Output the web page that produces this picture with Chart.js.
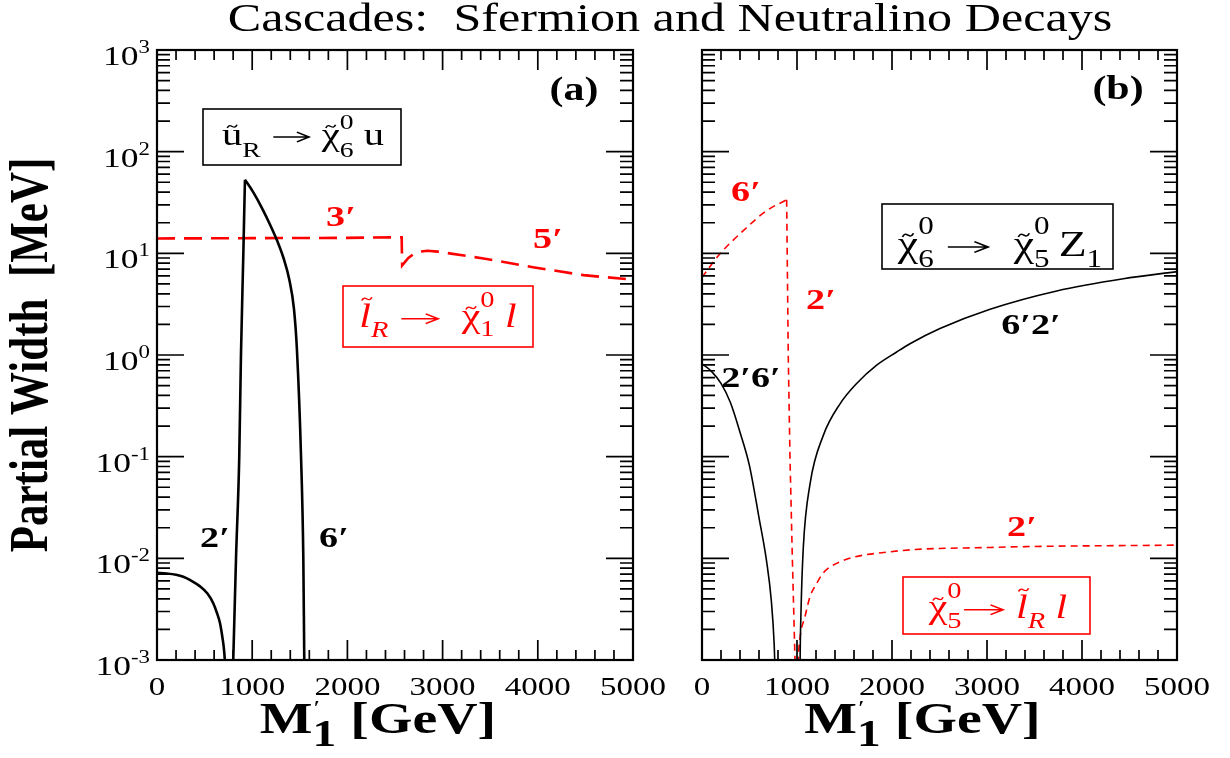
<!DOCTYPE html>
<html>
<head>
<meta charset="utf-8">
<script src="https://cdn.jsdelivr.net/npm/chart.js@4.4.1/dist/chart.umd.min.js"></script>
<style>
  html, body { margin: 0; padding: 0; background: #fff; }
  #wrap { position: relative; width: 1230px; height: 758px; overflow: hidden; }
  canvas { position: absolute; left: 0; top: 0; }
</style>
</head>
<body>
<div id="wrap">
  <canvas id="panelA" width="1230" height="758"></canvas>
  <canvas id="panelB" width="1230" height="758"></canvas>
</div>
<script>
const SERIF = '"Liberation Serif", "Times New Roman", "DejaVu Serif", serif';
const SX = 1.27; // the original figure is stretched sideways

const xTicks = [0, 1000, 2000, 3000, 4000, 5000];
const xMinor = 200;
const yExps = [-3, -2, -1, 0, 1, 2, 3];

// (a) squark ~u_R -> ~chi0_6 u, branch 2'
const squark2X = [0, 100, 200, 276, 350, 452, 530, 592, 630, 662, 690, 704, 712, 720];
const squark2Y = [0.0072, 0.0071, 0.0069, 0.0066, 0.0061, 0.0053, 0.0045, 0.0036, 0.0029, 0.0023, 0.0016, 0.00126, 0.0010, 0.0006];
// (a) squark, branch 6'
const squark6X = [796, 801, 830, 864, 882, 907, 918, 924, 1012, 1100, 1194, 1268, 1327, 1390, 1439, 1470, 1513, 1537, 1547, 1551];
const squark6Y = [0.0006, 0.001, 0.01, 0.1, 1, 10, 30, 53, 39.8, 28.2, 18.6, 12.9, 9.1, 5.5, 2.82, 1.12, 0.1, 0.01, 0.001, 0.0005];
// (a) slepton ~l_R -> ~chi0_1 l, 3' then 5'
const sleptonX = [0, 1000, 2000, 2570, 2575, 2640, 2700, 2770, 2840, 2950, 3430, 3950, 4480, 5000];
const sleptonY = [14.0, 14.1, 14.2, 14.4, 7.6, 9.0, 9.9, 10.4, 10.6, 10.4, 8.9, 7.3, 6.1, 5.5];

// (b) ~chi0_6 -> ~chi0_5 Z1, 2'6' and 6'2'
const neut26X = [0, 100, 200, 300, 400, 500, 600, 680, 730, 760, 772];
const neut26Y = [0.82, 0.69, 0.525, 0.339, 0.174, 0.0813, 0.0251, 0.00933, 0.0038, 0.00141, 0.00063];
const neut62X = [1031, 1033, 1042, 1066, 1137, 1277, 1453, 1628, 1839, 2049, 2189, 2505, 3032, 3734, 4435, 5000];
const neut62Y = [0.0005, 0.001, 0.00295, 0.0126, 0.0537, 0.162, 0.331, 0.525, 0.794, 1.07, 1.29, 1.82, 2.82, 4.27, 5.62, 6.61];
// (b) ~chi0_5 -> ~l_R l, 6' and 2'
const chiSlep6X = [0, 189, 435, 681, 891, 908, 926, 951, 979, 985];
const chiSlep6Y = [5.8, 9.9, 16.7, 26.3, 33.6, 1.0, 0.1, 0.01, 0.001, 0.0006];
const chiSlep2X = [1010, 1014, 1030, 1084, 1137, 1207, 1277, 1453, 1979, 3032, 5000];
const chiSlep2Y = [0.0007, 0.001, 0.0016, 0.00267, 0.0042, 0.00567, 0.0072, 0.00925, 0.0116, 0.0128, 0.0135];

function pts(xs, ys) {
  return xs.map((x, i) => ({ x: x, y: ys[i] }));
}

// split a curve at its highest point so the peak stays sharp
function splitPeak(xs, ys) {
  const k = ys.indexOf(Math.max(...ys));
  return [pts(xs.slice(0, k + 1), ys.slice(0, k + 1)), pts(xs.slice(k), ys.slice(k))];
}

function curve(data, color, width, dash, smooth) {
  return {
    data: data,
    showLine: true,
    borderColor: color,
    borderWidth: width,
    borderDash: dash || [],
    pointRadius: 0,
    fill: false,
    tension: 0,
    cubicInterpolationMode: smooth ? 'monotone' : 'default',
    clip: 1
  };
}

function say(ctx, text, x, y, size, o) {
  o = o || {};
  ctx.save();
  ctx.translate(x, y);
  ctx.scale(SX, 1);
  if (o.rot) ctx.rotate(o.rot);
  ctx.font = (o.weight || '') + ' ' + size + 'px ' + SERIF;
  ctx.fillStyle = o.color || '#000';
  ctx.textAlign = o.align || 'center';
  ctx.textBaseline = o.base || 'alphabetic';
  ctx.fillText(text, 0, 0);
  ctx.restore();
}

// small formula typesetter: parts with sub/superscripts, tildes and an arrow
function rich(ctx, parts, cx, y, size, color) {
  ctx.save();
  ctx.translate(cx, y);
  ctx.scale(SX, 1);
  ctx.fillStyle = color;
  ctx.strokeStyle = color;
  const fontOf = p => (p.it ? 'italic ' : '') + (p.b ? 'bold ' : '') + size * (p.s || 1) + 'px ' + SERIF;
  let w = 0;
  const items = parts.map(p => {
    let adv;
    if (p.arrow) adv = p.arrow * size;
    else { ctx.font = fontOf(p); adv = ctx.measureText(p.t).width; }
    const it = { p: p, x: w, adv: adv };
    if (!p.stack) w += adv;
    return it;
  });
  const x0 = -w / 2;
  items.forEach(it => {
    const p = it.p, px = x0 + it.x;
    if (p.arrow) {
      const ay = -0.25 * size, e = px + it.adv - 0.06 * size;
      ctx.lineWidth = size * 0.045;
      ctx.beginPath();
      ctx.moveTo(px + 0.06 * size, ay);
      ctx.lineTo(e, ay);
      ctx.moveTo(e - 0.3 * size, ay - 0.15 * size);
      ctx.lineTo(e, ay);
      ctx.lineTo(e - 0.3 * size, ay + 0.15 * size);
      ctx.stroke();
      return;
    }
    ctx.font = fontOf(p);
    ctx.fillText(p.t, px + (p.dx || 0) * size, (p.dy || 0) * size);
    if (p.tl) {
      const tx = px + it.adv / 2 + (p.tx || 0) * size, ty = -p.tl * size;
      const tw = 0.24 * size, th = 0.05 * size;
      ctx.lineWidth = size * 0.04;
      ctx.beginPath();
      ctx.moveTo(tx - tw / 2, ty + th);
      ctx.bezierCurveTo(tx - tw / 6, ty - th * 3, tx + tw / 6, ty + th * 3, tx + tw / 2, ty - th);
      ctx.stroke();
    }
  });
  ctx.restore();
}

function box(ctx, x0, y0, x1, y1, color) {
  ctx.save();
  ctx.strokeStyle = color;
  ctx.lineWidth = 1.6;
  ctx.strokeRect(x0, y0, x1 - x0, y1 - y0);
  ctx.restore();
}

// inward ticks on all four sides, frame and tick labels
function axesPlugin(showY, extras) {
  return {
    id: 'axesFrame',
    afterDatasetsDraw(chart) {
      const ctx = chart.ctx, a = chart.chartArea, x = chart.scales.x, y = chart.scales.y;
      ctx.save();
      ctx.strokeStyle = '#000';
      ctx.lineWidth = 1.7;
      ctx.beginPath();
      for (let v = xTicks[0]; v <= xTicks[xTicks.length - 1]; v += xMinor) {
        const px = x.getPixelForValue(v);
        const len = xTicks.includes(v) ? 20 : 10;
        ctx.moveTo(px, a.bottom); ctx.lineTo(px, a.bottom - len);
        ctx.moveTo(px, a.top); ctx.lineTo(px, a.top + len);
      }
      for (let i = 0; i < yExps.length - 1; i++) {
        for (let m = 1; m < 10; m++) {
          const py = y.getPixelForValue(m * Math.pow(10, yExps[i]));
          const len = m === 1 ? 27 : 13;
          ctx.moveTo(a.left, py); ctx.lineTo(a.left + len, py);
          ctx.moveTo(a.right, py); ctx.lineTo(a.right - len, py);
        }
      }
      ctx.stroke();
      ctx.lineWidth = 2.2;
      ctx.strokeRect(a.left, a.top, a.right - a.left, a.bottom - a.top);
      ctx.restore();

      xTicks.forEach(v => say(ctx, String(v), x.getPixelForValue(v), 695, 26));
      if (showY) {
        yExps.forEach(e => {
          const py = y.getPixelForValue(Math.pow(10, e));
          const right = 150;
          ctx.font = '28px ' + SERIF;
          const w1 = ctx.measureText('10').width * SX;
          ctx.font = '18px ' + SERIF;
          const w2 = ctx.measureText(String(e)).width * SX;
          say(ctx, '10', right - w2 - w1, py + 15, 28, { align: 'left' });
          say(ctx, String(e), right - w2, py + 3, 18, { align: 'left' });
        });
      }
      rich(ctx, [{ t: 'M', b: 1 }, { t: '\u2032', s: 0.5, dy: -0.42, dx: 0.02, stack: 1 }, { t: '1', b: 1, s: 0.85, dy: 0.3 }, { t: ' [GeV]', b: 1 }],
        (a.left + a.right) / 2 - 17, 733, 44, '#000');
      extras(ctx, a);
    }
  };
}

function makeChart(id, datasets, pad, showY, extras) {
  return new Chart(document.getElementById(id), {
    type: 'scatter',
    data: { datasets: datasets },
    options: {
      responsive: false,
      animation: false,
      events: [],
      devicePixelRatio: 1,
      layout: { padding: pad },
      scales: {
        x: { type: 'linear', min: 0, max: 5000, display: false },
        y: { type: 'logarithmic', min: 1e-3, max: 1e3, display: false }
      },
      plugins: { legend: { display: false }, tooltip: { enabled: false } }
    },
    plugins: [axesPlugin(showY, extras)]
  });
}

const RED = '#ff0000';
const LBL = 30;
const squark6 = splitPeak(squark6X, squark6Y);
makeChart('panelA', [
  curve(pts(squark2X, squark2Y), '#000', 2.6, null, true),
  curve(squark6[0], '#000', 2.6, null, true),
  curve(squark6[1], '#000', 2.6, null, true),
  curve(pts(sleptonX, sleptonY), RED, 2.6, [18, 9], false)
], { left: 157, right: 597, top: 50, bottom: 98 }, true, (ctx, a) => {
  say(ctx, 'Cascades:  Sfermion and Neutralino Decays', 670, 31, 39.5);
  say(ctx, 'Partial Width  [MeV]', 33, 355, 43, { weight: 'bold', rot: -Math.PI / 2, base: 'middle' });
  say(ctx, '(a)', 574, 91, 33, { weight: 'bold', base: 'middle' });
  say(ctx, '3\u2032', 341, 218, LBL, { weight: 'bold', base: 'middle', color: RED });
  say(ctx, '5\u2032', 548, 240, LBL, { weight: 'bold', base: 'middle', color: RED });
  say(ctx, '2\u2032', 215, 539, LBL, { weight: 'bold', base: 'middle' });
  say(ctx, '6\u2032', 334, 539, LBL, { weight: 'bold', base: 'middle' });
  box(ctx, 203, 109, 401, 165, '#000');
  rich(ctx, [{ t: 'u', tl: 0.58 }, { t: 'R', s: 0.68, dy: 0.38 }, { t: ' ' }, { arrow: 1.0 }, { t: ' ' },
    { t: '\u03c7', tl: 0.58 }, { t: '0', s: 0.68, dy: -0.5, stack: 1 }, { t: '6', s: 0.68, dy: 0.38 }, { t: ' u' }],
    303, 145, 32, '#000');
  box(ctx, 343, 286, 533, 347, RED);
  rich(ctx, [{ t: 'l', it: 1, tl: 0.85, tx: 0.04 }, { t: 'R', it: 1, s: 0.68, dy: 0.3 }, { t: ' ' }, { arrow: 1.0 }, { t: '  ' },
    { t: '\u03c7', tl: 0.58 }, { t: '0', s: 0.68, dy: -0.62, stack: 1 }, { t: '1', s: 0.68, dy: 0.28 }, { t: ' ' }, { t: 'l', it: 1 }],
    438, 327, 33, RED);
});

const chiSlep6 = splitPeak(chiSlep6X, chiSlep6Y);
makeChart('panelB', [
  curve(pts(neut26X, neut26Y), '#000', 1.6, null, true),
  curve(pts(neut62X, neut62Y), '#000', 1.6, null, true),
  curve(chiSlep6[0], RED, 1.6, [7, 5], true),
  curve(chiSlep6[1], RED, 1.6, [7, 5], false),
  curve(pts(chiSlep2X, chiSlep2Y), RED, 1.6, [7, 5], true)
], { left: 702, right: 53, top: 50, bottom: 98 }, false, (ctx, a) => {
  say(ctx, '(b)', 1118, 90, 33, { weight: 'bold', base: 'middle' });
  say(ctx, '6\u2032', 746, 193, LBL, { weight: 'bold', base: 'middle', color: RED });
  say(ctx, '2\u2032', 821, 301, LBL, { weight: 'bold', base: 'middle', color: RED });
  say(ctx, '6\u20322\u2032', 1031, 326, LBL, { weight: 'bold', base: 'middle' });
  say(ctx, '2\u20326\u2032', 751, 379, LBL, { weight: 'bold', base: 'middle' });
  say(ctx, '2\u2032', 1022, 528, LBL, { weight: 'bold', base: 'middle', color: RED });
  box(ctx, 882, 204, 1113, 269, '#000');
  rich(ctx, [{ t: '\u03c7', tl: 0.58 }, { t: '0', s: 0.68, dy: -0.6, stack: 1 }, { t: '6', s: 0.68, dy: 0.3 }, { t: ' ' }, { arrow: 1.0 }, { t: '  ' },
    { t: '\u03c7', tl: 0.58 }, { t: '0', s: 0.68, dy: -0.6, stack: 1 }, { t: '5', s: 0.68, dy: 0.3 }, { t: '\u2009Z' }, { t: '1', s: 0.68, dy: 0.3 }],
    1000, 256, 36, '#000');
  box(ctx, 903, 577, 1090, 634, RED);
  rich(ctx, [{ t: '\u03c7', tl: 0.58 }, { t: '0', s: 0.68, dy: -0.62, stack: 1 }, { t: '5', s: 0.68, dy: 0.3 }, { arrow: 1.05 }, { t: ' ' },
    { t: 'l', it: 1, tl: 0.85, tx: 0.04 }, { t: 'R', it: 1, s: 0.68, dy: 0.3 }, { t: ' ' }, { t: 'l', it: 1 }],
    998, 618, 33, RED);
});
</script>
</body>
</html>
